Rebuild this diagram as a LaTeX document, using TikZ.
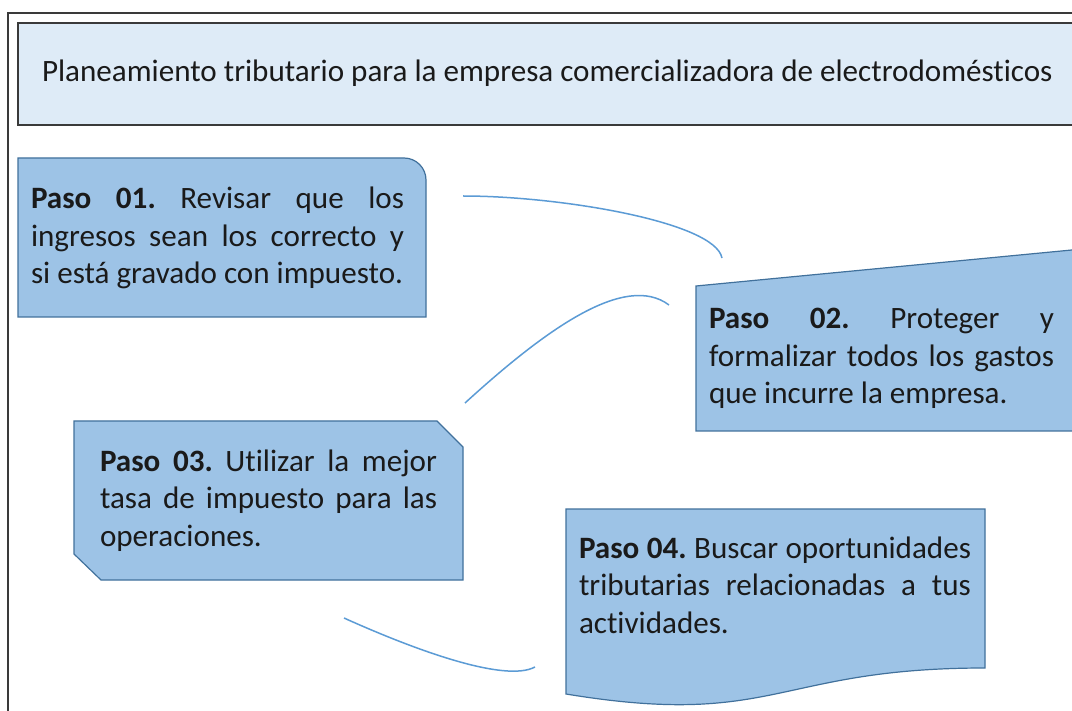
\documentclass[tikz,border=0pt]{standalone}
\usepackage{fontspec}
\setmainfont{Carlito}[Ligatures={NoCommon}]
\definecolor{titlefill}{HTML}{DEEBF7}
\definecolor{boxfill}{HTML}{9DC3E6}
\definecolor{boxline}{HTML}{41719C}
\definecolor{linkblue}{HTML}{5B9BD5}
\definecolor{framegray}{HTML}{3A3A3A}
\definecolor{txtcol}{HTML}{1A1A1A}
\newcommand{\jlin}[2]{\makebox[#1][s]{#2}}
\newcommand{\llin}[2]{\makebox[#1][l]{#2}}
\newcommand{\fst}{\rule{0pt}{24pt}}
\frenchspacing
\begin{document}
\begin{tikzpicture}[x=1pt,y=-1pt,
  stepbox/.style={fill=boxfill, draw=boxline, line width=1.2pt},
  titlebox/.style={fill=titlefill, draw=framegray, line width=1.8pt},
  framestyle/.style={draw=framegray, line width=1.2pt},
  link/.style={draw=linkblue, line width=1.5pt},
  txt/.style={anchor=north west, inner sep=0pt, outer sep=0pt, align=left,
    text=txtcol, font=\fontsize{31.1}{37.5}\selectfont}]
\useasboundingbox (0,0) rectangle (1072,711);
\clip (0,0) rectangle (1072,711);
\fill[white] (0,0) rectangle (1072,711);

% outer frame
\draw[framestyle] (8,730) -- (8,13) -- (1100,13);

% title
\draw[titlebox] (18,23) rectangle (1100,125);
\node[txt, anchor=base west] (title) at (42,82) {Planeamiento tributario para la empresa comercializadora de electrodomésticos};

% step 1 box (rounded top right corner)
\draw[stepbox] (18,317) -- (18,158) -- (404,158)
  .. controls (416.15,158) and (426,167.85) .. (426,180) -- (426,317) -- cycle;
% step 2 box (manual input)
\draw[stepbox] (696,286) -- (1100,247.3) -- (1100,431) -- (696,431) -- cycle;
% step 3 box (snipped corners)
\draw[stepbox] (74,421) -- (437,421) -- (463,447) -- (463,580) -- (101,580) -- (74,554) -- cycle;
% step 4 box (document)
\draw[stepbox] (566,509) -- (985,509) -- (985,668)
  .. controls (775.5,668) and (775.5,728.6) .. (566,694) -- cycle;

% texts
\node[txt] (t1) at (31,185) {\jlin{373pt}{\fst\textbf{Paso 01.} Revisar que los}\\
  \jlin{373pt}{ingresos sean los correcto y}\\
  \llin{373pt}{si está gravado con impuesto.}};
\node[txt] (t2) at (709,305) {\jlin{345pt}{\fst\textbf{Paso 02.} Proteger y}\\
  \jlin{345pt}{formalizar todos los gastos}\\
  \llin{345pt}{que incurre la empresa.}};
\node[txt] (t3) at (100,447) {\jlin{337pt}{\fst\textbf{Paso 03.} Utilizar la mejor}\\
  \jlin{337pt}{tasa de impuesto para las}\\
  \llin{337pt}{operaciones.}};
\node[txt] (t4) at (579,534) {\jlin{392pt}{\fst\textbf{Paso 04.} Buscar oportunidades}\\
  \jlin{392pt}{tributarias relacionadas a tus}\\
  \llin{392pt}{actividades.}};

% connectors
\coordinate (c1a) at (463,196);
\coordinate (c1b) at (722,258);
\coordinate (c2a) at (465,403);
\coordinate (c2b) at (669,305);
\coordinate (c3a) at (344,618);
\coordinate (c3b) at (535,667);
\draw[link] (c1a) .. controls (560,196) and (715,222) .. (c1b);
\draw[link] (c2a) .. controls (545,330) and (625,272) .. (c2b);
\draw[link] (c3a) .. controls (415,650) and (505,683) .. (c3b);
\end{tikzpicture}
\end{document}
